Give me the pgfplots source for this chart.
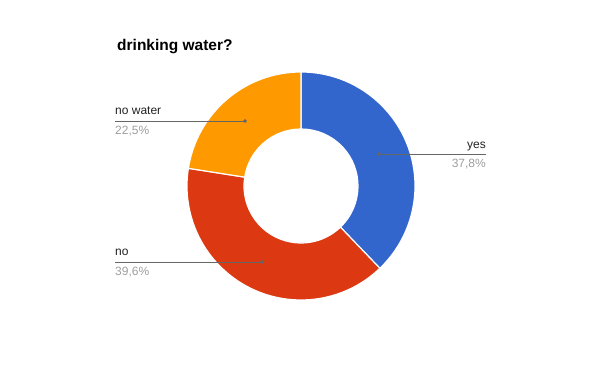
\documentclass[border=0pt]{standalone}
\usepackage{pgfplots}
\pgfplotsset{compat=1.18}
\usepackage{fontspec}
\setmainfont{Liberation Sans}
\definecolor{cyes}{HTML}{3366CC}
\definecolor{cno}{HTML}{DC3912}
\definecolor{cnw}{HTML}{FF9900}
\definecolor{pctgray}{HTML}{9E9E9E}
\definecolor{txt}{HTML}{222222}
\definecolor{leader}{HTML}{666666}
% data (percent)
\def\vyes{37.8}
\def\vno{39.6}
\def\vnw{22.5}
\begin{document}
\begin{tikzpicture}
\pgfmathsetmacro\tot{\vyes+\vno+\vnw}
\pgfmathsetmacro\aA{90}
\pgfmathsetmacro\aB{\aA-360*\vyes/\tot}
\pgfmathsetmacro\aC{\aB-360*\vno/\tot}
\pgfmathsetmacro\aD{\aC-360*\vnw/\tot}
\def\ro{114pt}
\def\ri{57pt}
\begin{axis}[xmin=0,xmax=600,ymin=0,ymax=371,width=600pt,height=371pt,
  scale only axis,hide axis,clip=false]
\path[draw=none,fill=none] (axis cs:0,0) rectangle (axis cs:600,371);
\path (axis cs:301,185) coordinate (c);
\filldraw[fill=cyes,draw=white,line width=1.2pt]
  ([shift={(\aA:\ro)}]c) arc[start angle=\aA,end angle=\aB,radius=\ro]
  -- ([shift={(\aB:\ri)}]c) arc[start angle=\aB,end angle=\aA,radius=\ri] -- cycle;
\filldraw[fill=cno,draw=white,line width=1.2pt]
  ([shift={(\aB:\ro)}]c) arc[start angle=\aB,end angle=\aC,radius=\ro]
  -- ([shift={(\aC:\ri)}]c) arc[start angle=\aC,end angle=\aB,radius=\ri] -- cycle;
\filldraw[fill=cnw,draw=white,line width=1.2pt]
  ([shift={(\aC:\ro)}]c) arc[start angle=\aC,end angle=\aD,radius=\ro]
  -- ([shift={(\aD:\ri)}]c) arc[start angle=\aD,end angle=\aC,radius=\ri] -- cycle;
% leader lines
\addplot[leader,line width=0.8pt] coordinates {(379,217) (486,217)};
\addplot[leader,line width=0.8pt] coordinates {(115,250) (245,250)};
\addplot[leader,line width=0.8pt] coordinates {(115,109) (262,109)};
\addplot[only marks,mark=*,mark size=1.6pt,leader] coordinates {(379,217) (245,250) (262,109)};
% texts
\node[anchor=base west,inner sep=0pt,font=\fontsize{15.5}{18}\selectfont\bfseries,text=black] at (axis cs:117,320) {drinking water?};
\node[anchor=base east,inner sep=0pt,font=\fontsize{12}{14}\selectfont,text=txt] at (axis cs:486,222.7) {yes};
\node[anchor=base east,inner sep=0pt,font=\fontsize{12}{14}\selectfont,text=pctgray] at (axis cs:486,203.7) {37,8\%};
\node[anchor=base west,inner sep=0pt,font=\fontsize{12}{14}\selectfont,text=txt] at (axis cs:115,256.5) {no water};
\node[anchor=base west,inner sep=0pt,font=\fontsize{12}{14}\selectfont,text=pctgray] at (axis cs:115,236.7) {22,5\%};
\node[anchor=base west,inner sep=0pt,font=\fontsize{12}{14}\selectfont,text=txt] at (axis cs:115,115) {no};
\node[anchor=base west,inner sep=0pt,font=\fontsize{12}{14}\selectfont,text=pctgray] at (axis cs:115,95.5) {39,6\%};
\end{axis}
\end{tikzpicture}
\end{document}
